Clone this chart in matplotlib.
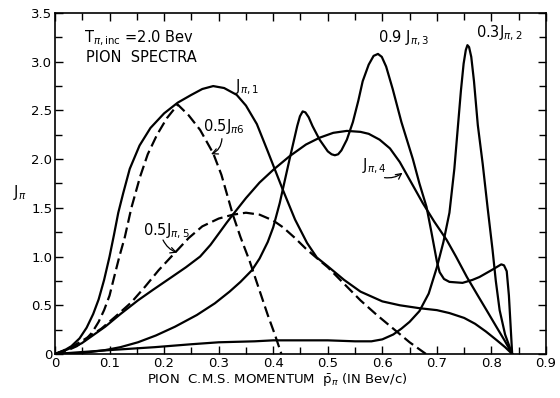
import matplotlib
matplotlib.use("Agg")
import matplotlib.pyplot as plt
from matplotlib.ticker import FixedLocator, MultipleLocator

# tick values and labels
x_ticks = [0.0, 0.1, 0.2, 0.3, 0.4, 0.5, 0.6, 0.7, 0.8, 0.9]
x_tick_labels = ["0", "0.1", "0.2", "0.3", "0.4", "0.5", "0.6", "0.7", "0.8", "0.9"]
y_ticks = [0.0, 0.5, 1.0, 1.5, 2.0, 2.5, 3.0, 3.5]
y_tick_labels = ["0", "0.5", "1.0", "1.5", "2.0", "2.5", "3.0", "3.5"]

# J_pi,1 (solid)
j1_x = [0.0, 0.015, 0.03, 0.045, 0.058, 0.07, 0.08, 0.09, 0.1, 0.108, 0.116, 0.125,
        0.137, 0.155, 0.175, 0.2, 0.225, 0.25, 0.27, 0.29, 0.31, 0.333, 0.35, 0.37,
        0.39, 0.418, 0.44, 0.462, 0.48, 0.5, 0.53, 0.56, 0.6, 0.632, 0.668, 0.7,
        0.723, 0.75, 0.77, 0.79, 0.81, 0.825, 0.838]
j1_y = [0.0, 0.03, 0.08, 0.16, 0.27, 0.41, 0.56, 0.76, 1.0, 1.22, 1.45, 1.65,
        1.9, 2.14, 2.32, 2.47, 2.58, 2.66, 2.72, 2.75, 2.73, 2.66, 2.55, 2.36,
        2.08, 1.68, 1.38, 1.14, 0.99, 0.9, 0.76, 0.64, 0.54, 0.5, 0.47, 0.45,
        0.42, 0.37, 0.31, 0.23, 0.14, 0.07, 0.0]

# 0.5 J_pi6 (dashed)
j6_x = [0.0, 0.02, 0.04, 0.055, 0.068, 0.08, 0.09, 0.1, 0.108, 0.118, 0.128, 0.14,
        0.156, 0.17, 0.187, 0.205, 0.225, 0.245, 0.266, 0.29, 0.305, 0.326, 0.34,
        0.357, 0.375, 0.39, 0.403, 0.415]
j6_y = [0.0, 0.03, 0.08, 0.14, 0.22, 0.33, 0.45, 0.6, 0.78, 1.0, 1.2, 1.5,
        1.82, 2.05, 2.25, 2.42, 2.56, 2.45, 2.3, 2.06, 1.84, 1.43, 1.2,
        0.95, 0.65, 0.4, 0.2, 0.0]

# 0.5 J_pi,5 (dashed)
j5_x = [0.0, 0.03, 0.06, 0.085, 0.11, 0.14, 0.165, 0.19, 0.22, 0.245, 0.27, 0.3,
        0.326, 0.35, 0.375, 0.4, 0.418, 0.44, 0.46, 0.485, 0.5, 0.53, 0.56, 0.59,
        0.62, 0.65, 0.68]
j5_y = [0.0, 0.07, 0.17, 0.26, 0.38, 0.53, 0.69, 0.86, 1.04, 1.19, 1.31, 1.39,
        1.43, 1.45, 1.43, 1.37, 1.3, 1.19, 1.08, 0.96, 0.89, 0.72, 0.55, 0.4,
        0.26, 0.12, 0.0]

# J_pi,4 (solid)
j4_x = [0.0, 0.02, 0.049, 0.092, 0.12, 0.152, 0.18, 0.214, 0.24, 0.266, 0.285,
        0.302, 0.315, 0.326, 0.35, 0.375, 0.4, 0.43, 0.46, 0.485, 0.51, 0.535,
        0.56, 0.575, 0.595, 0.614, 0.632, 0.645, 0.66, 0.674, 0.695, 0.718, 0.735,
        0.755, 0.775, 0.791, 0.81, 0.825, 0.838]
j4_y = [0.0, 0.04, 0.11, 0.28, 0.41, 0.55, 0.66, 0.79, 0.89, 1.0, 1.12,
        1.25, 1.35, 1.43, 1.6, 1.76, 1.89, 2.03, 2.15, 2.22, 2.27, 2.29,
        2.28, 2.26, 2.2, 2.11, 1.97, 1.84, 1.69, 1.55, 1.36, 1.17, 1.0,
        0.79, 0.6, 0.45, 0.27, 0.13, 0.0]

# 0.9 J_pi,3 (solid)
j3_x = [0.0, 0.05, 0.092, 0.12, 0.152, 0.185, 0.22, 0.26, 0.293, 0.32, 0.34,
        0.361, 0.375, 0.39, 0.4, 0.412, 0.422, 0.43, 0.437, 0.444, 0.449, 0.454,
        0.459, 0.465, 0.472, 0.485, 0.5, 0.507, 0.513, 0.519, 0.525, 0.535, 0.546,
        0.556, 0.564, 0.575, 0.584, 0.592, 0.599, 0.607, 0.619, 0.635, 0.656,
        0.668, 0.681, 0.69, 0.7, 0.705, 0.713, 0.723, 0.747, 0.765, 0.778, 0.8,
        0.812, 0.818, 0.823, 0.828, 0.832, 0.835, 0.838]
j3_y = [0.0, 0.01, 0.04, 0.07, 0.12, 0.19, 0.28, 0.4, 0.52, 0.64, 0.74,
        0.86, 0.98, 1.15, 1.3, 1.55, 1.8, 2.0, 2.17, 2.34, 2.44, 2.49,
        2.48, 2.43, 2.34, 2.2, 2.08, 2.05, 2.04, 2.05, 2.09, 2.2, 2.38,
        2.6, 2.8, 2.97, 3.06, 3.08, 3.05, 2.95, 2.72, 2.38, 2.0,
        1.75, 1.51, 1.25, 0.95, 0.84, 0.77, 0.74, 0.73, 0.76, 0.79, 0.86,
        0.9, 0.92, 0.91, 0.85, 0.6, 0.3, 0.0]

# 0.3 J_pi,2 (solid)
j2_x = [0.0, 0.05, 0.1, 0.183, 0.25, 0.3, 0.366, 0.4, 0.45, 0.5, 0.55, 0.58,
        0.6, 0.62, 0.635, 0.65, 0.668, 0.685, 0.7, 0.712, 0.723, 0.732, 0.738,
        0.744, 0.749, 0.753, 0.756, 0.759, 0.763, 0.768, 0.775, 0.784, 0.793,
        0.802, 0.808, 0.815, 0.825, 0.838]
j2_y = [0.0, 0.02, 0.04, 0.07, 0.1, 0.12, 0.13, 0.14, 0.14, 0.14, 0.13, 0.13,
        0.15, 0.2, 0.26, 0.33, 0.44, 0.62, 0.89, 1.15, 1.45, 1.9, 2.3,
        2.7, 2.98, 3.12, 3.17, 3.15, 3.05, 2.8, 2.35, 1.95, 1.5,
        1.07, 0.75, 0.45, 0.2, 0.0]

plt.rcParams["font.family"] = ["DejaVu Sans"]
plt.rcParams["mathtext.fontset"] = "dejavusans"

fig = plt.figure(figsize=(5.6, 3.98), dpi=100)
ax = fig.add_axes([0.0982, 0.1106, 0.8768, 0.8567])

solid = dict(color="black", lw=1.6, solid_joinstyle="round")
dashed = dict(color="black", lw=1.6, linestyle=(0, (5, 2.2)))

ax.plot(j1_x, j1_y, **solid)
ax.plot(j4_x, j4_y, **solid)
ax.plot(j3_x, j3_y, **solid)
ax.plot(j2_x, j2_y, **solid)
ax.plot(j6_x, j6_y, **dashed)
ax.plot(j5_x, j5_y, **dashed)

ax.set_xlim(0, 0.9)
ax.set_ylim(0, 3.5)
ax.xaxis.set_major_locator(FixedLocator(x_ticks))
ax.set_xticklabels(x_tick_labels)
ax.xaxis.set_minor_locator(MultipleLocator(0.05))
ax.yaxis.set_major_locator(FixedLocator(y_ticks))
ax.set_yticklabels(y_tick_labels)
ax.yaxis.set_minor_locator(MultipleLocator(0.25))

ax.tick_params(which="both", direction="in", top=True, right=True,
               width=1.0, labelsize=9.5)
ax.tick_params(which="major", length=6)
ax.tick_params(which="minor", length=5)
ax.tick_params(axis="x", pad=2.5)
ax.tick_params(axis="y", pad=2)
for spine in ax.spines.values():
    spine.set_linewidth(1.2)

ax.text(0.452, -0.086, r"PION  C.M.S. MOMENTUM  $\bar{\mathrm{p}}_{\pi}$ (IN Bev/c)",
        transform=ax.transAxes, ha="center", va="baseline", fontsize=9.5)
fig.text(13 / 560, 1 - 192 / 398, r"$\mathrm{J}_{\pi}$", ha="left", va="center",
         fontsize=10.5)

lab = dict(fontsize=10.5, va="center", ha="left")
ax.text(0.053, 3.24, r"$\mathrm{T}_{\pi,\mathrm{inc}}$ =2.0 Bev", **lab)
ax.text(0.056, 3.04, "PION  SPECTRA", **lab)
ax.text(0.33, 2.74, r"$\mathrm{J}_{\pi,\mathrm{1}}$", **lab)
ax.text(0.271, 2.34, r"0.5$\mathrm{J}_{\pi6}$", **lab)
ax.text(0.161, 1.26, r"0.5$\mathrm{J}_{\pi,5}$", **lab)
ax.text(0.562, 1.93, r"$\mathrm{J}_{\pi,4}$", **lab)
ax.text(0.592, 3.24, r"0.9 $\mathrm{J}_{\pi,3}$", **lab)
ax.text(0.771, 3.29, r"0.3$\mathrm{J}_{\pi,2}$", **lab)

arrow = dict(arrowstyle="->", color="black", lw=0.9, shrinkA=0, shrinkB=0)
ax.annotate("", xy=(0.286, 2.05), xytext=(0.306, 2.21),
            arrowprops=dict(connectionstyle="arc3,rad=-0.3", **arrow))
ax.annotate("", xy=(0.224, 1.04), xytext=(0.198, 1.17),
            arrowprops=dict(connectionstyle="arc3,rad=0.2", **arrow))
ax.annotate("", xy=(0.637, 1.86), xytext=(0.604, 1.81),
            arrowprops=dict(connectionstyle="arc3,rad=0.2", **arrow))

fig.savefig("out.png", dpi=100)
